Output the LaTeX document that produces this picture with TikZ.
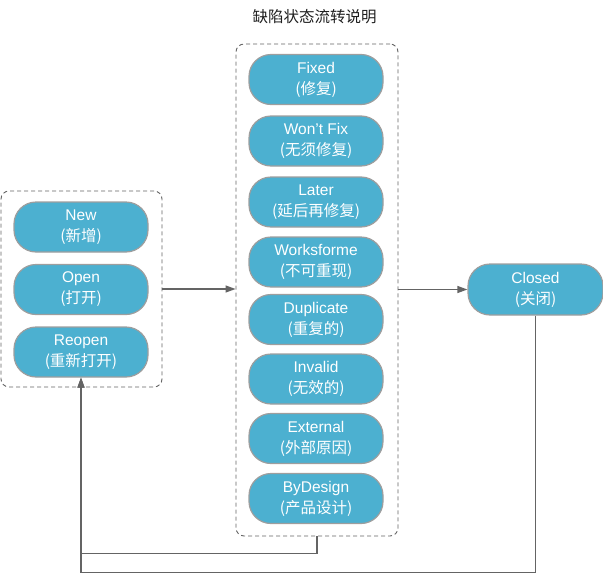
\documentclass[tikz,border=0pt]{standalone}
\usepackage{fontspec}
\setmainfont{Liberation Sans}
\newfontfamily\cjk{Noto Sans CJK SC}
\usetikzlibrary{arrows.meta}
\definecolor{nodeblue}{RGB}{76,176,208}
\definecolor{nodeborder}{RGB}{158,158,158}
\definecolor{linegray}{RGB}{100,100,100}
\definecolor{titlegray}{RGB}{30,30,30}
\tikzset{
  state/.style={draw=nodeborder, line width=1.2pt, fill=nodeblue, rounded corners=22pt,
    minimum width=134pt, minimum height=50pt, inner sep=0pt, align=center, text=white,
    font=\fontsize{15.5}{21}\selectfont},
  group/.style={draw=linegray, line width=0.9pt, dash pattern=on 4pt off 3pt, rounded corners=8pt,
    inner sep=0pt},
  conn/.style={draw=linegray, line width=1.2pt},
  arr/.style={conn, -{Triangle[length=10pt,width=7pt]}},
}
\begin{document}
\begin{tikzpicture}[x=1pt, y=-1pt]
\useasboundingbox (0,0) rectangle (603,573);
\node[text=titlegray, font=\cjk\fontsize{15.5}{18}\selectfont] (title) at (314.5,17) {缺陷状态流转说明};

\node[group, minimum width=161pt, minimum height=196pt] (leftbox) at (81.5,289) {};
\node[group, minimum width=162pt, minimum height=492pt] (midbox) at (317,290) {};

\node[state] (new) at (81,227) {New\\{\cjk (新增)}};
\node[state] (open) at (81,289.5) {Open\\{\cjk (打开)}};
\node[state] (reopen) at (81,352) {Reopen\\{\cjk (重新打开)}};

\node[state] (fixed) at (316,79.5) {Fixed\\{\cjk (修复)}};
\node[state] (wontfix) at (316,141) {Won’t Fix\\{\cjk (无须修复)}};
\node[state] (later) at (316,202) {Later\\{\cjk (延后再修复)}};
\node[state] (works) at (316,262) {Worksforme\\{\cjk (不可重现)}};
\node[state] (dup) at (316,319.5) {Duplicate\\{\cjk (重复的)}};
\node[state] (invalid) at (316,379) {Invalid\\{\cjk (无效的)}};
\node[state] (external) at (316,438.5) {External\\{\cjk (外部原因)}};
\node[state] (bydesign) at (316,498.5) {ByDesign\\{\cjk (产品设计)}};

\node[state, minimum width=135pt, minimum height=51pt] (closed) at (535.5,289.5) {Closed\\{\cjk (关闭)}};

\draw[arr] (leftbox.east) -- (leftbox.east -| midbox.west);
\draw[arr] (midbox.east |- closed.west) -- (closed.west);
\draw[arr] (midbox.south) -- ++(0,17) -| (reopen.south);
\draw[arr] (closed.south) -- ++(0,257) -| (reopen.south);
\end{tikzpicture}
\end{document}
